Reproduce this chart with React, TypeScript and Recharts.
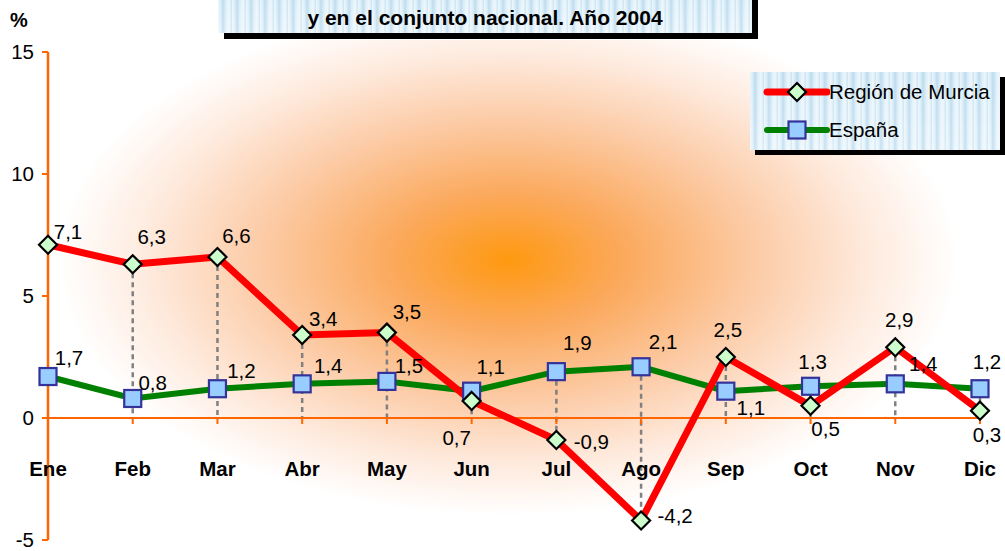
import React from "react";
import {
  LineChart,
  Line,
  XAxis,
  YAxis,
  ReferenceLine,
  ReferenceDot,
  LabelList,
} from "recharts";

const months = ["Ene", "Feb", "Mar", "Abr", "May", "Jun", "Jul", "Ago", "Sep", "Oct", "Nov", "Dic"];
const murcia = [7.1, 6.3, 6.6, 3.4, 3.5, 0.7, -0.9, -4.2, 2.5, 0.5, 2.9, 0.3];
const espana = [1.7, 0.8, 1.2, 1.4, 1.5, 1.1, 1.9, 2.1, 1.1, 1.3, 1.4, 1.2];
const yTicks = [-5, 0, 5, 10, 15];

// label placement (dx, dy from the marker), picked by eye
const murciaLabelPos = [
  [20, -13], [19, -28], [19, -21], [21, -17], [20, -21], [-15, 37],
  [35, 2], [34, -5], [2, -28], [15, 23], [4, -28], [7, 24],
];
const espanaLabelPos = [
  [21, -19], [20, -16], [24, -18], [26, -18], [22, -16], [19, -25],
  [21, -29], [22, -25], [25, 16], [2, -25], [28, -20], [7, -27],
];

const ORANGE = "#FF6600";
const FONT = "Arial, 'Liberation Sans', sans-serif";
const FS = 20.5;

const data = months.map((m, i) => ({ month: m, murcia: murcia[i], espana: espana[i] }));

const frosted =
  "repeating-linear-gradient(90deg, rgba(255,255,255,0.55) 0px, rgba(255,255,255,0) 3px, rgba(140,190,225,0.35) 5px, rgba(255,255,255,0.15) 8px, rgba(255,255,255,0.6) 11px, rgba(170,210,235,0.3) 14px), linear-gradient(#d4eaf6, #e4f2fa)";

const fmt = (v: number) => v.toFixed(1).replace(".", ",");

function Diamond({ cx, cy }: any) {
  if (cx == null || cy == null) return null;
  const r = 9;
  return (
    <polygon
      points={`${cx},${cy - r} ${cx + r},${cy} ${cx},${cy + r} ${cx - r},${cy}`}
      fill="#CCFFCC"
      stroke="#000"
      strokeWidth={2.2}
    />
  );
}

function Square({ cx, cy }: any) {
  if (cx == null || cy == null) return null;
  const s = 17;
  return (
    <rect x={cx - s / 2} y={cy - s / 2} width={s} height={s} fill="#99CCFF" stroke="#333399" strokeWidth={2.2} />
  );
}

const makeLabel = (pos: number[][]) => (props: any) => {
  const { x, y, value, index } = props;
  const [dx, dy] = pos[index] || [0, -20];
  return (
    <text
      x={x + dx}
      y={y + dy}
      textAnchor="middle"
      dominantBaseline="central"
      fontSize={FS}
      fontFamily={FONT}
      fill="#000"
    >
      {fmt(value)}
    </text>
  );
};

function MonthTick({ cx, cy, label }: any) {
  return (
    <g>
      <line x1={cx} y1={cy} x2={cx} y2={cy + 6} stroke={ORANGE} strokeWidth={2} />
      <text
        x={cx}
        y={cy + 50}
        textAnchor="middle"
        dominantBaseline="central"
        fontSize={FS}
        fontWeight="bold"
        fontFamily={FONT}
        fill="#000"
      >
        {label}
      </text>
    </g>
  );
}

export default function App() {
  return (
    <div
      style={{
        position: "absolute",
        left: 0,
        top: 0,
        width: 1005,
        height: 551,
        overflow: "hidden",
        background: "#fff",
        fontFamily: FONT,
      }}
    >
      {/* plot area glow */}
      <div
        style={{
          position: "absolute",
          left: 48,
          top: 40,
          width: 950,
          height: 500,
          background:
            "radial-gradient(ellipse 450px 255px at 460px 220px, #FF9910 0%, #FBA85A 25%, #FCCBA6 55%, #FEEADD 80%, #FFFFFF 100%)",
        }}
      />

      {/* title box */}
      <div
        style={{
          position: "absolute",
          left: 218,
          top: -6,
          width: 534,
          height: 39,
          background: frosted,
          boxShadow: "6px 6px 0 #000",
          textAlign: "center",
          fontWeight: "bold",
          fontSize: 21,
          lineHeight: "48px",
          color: "#000",
        }}
      >
        y en el conjunto nacional. Año 2004
      </div>

      <div style={{ position: "absolute", left: 10, top: 9, fontSize: 20, fontWeight: "bold" }}>%</div>

      <LineChart
        width={1005}
        height={551}
        data={data}
        margin={{ top: 52, right: 25, bottom: 11, left: 0 }}
        style={{ position: "absolute", left: 0, top: 0 }}
      >
        <XAxis dataKey="month" scale="point" hide />
        <YAxis
          width={48}
          domain={[-5, 15]}
          ticks={yTicks}
          interval={0}
          axisLine={{ stroke: ORANGE, strokeWidth: 2.5 }}
          tickLine={{ stroke: ORANGE, strokeWidth: 2 }}
          tickSize={6}
          tickMargin={8}
          tick={{ fill: "#000", fontSize: FS, fontFamily: FONT }}
        />
        {months.map((m, i) => (
          <ReferenceLine
            key={"drop" + m}
            segment={[
              { x: m, y: Math.max(murcia[i], espana[i], 0) },
              { x: m, y: Math.min(murcia[i], espana[i], 0) },
            ]}
            stroke="#808080"
            strokeWidth={2.5}
            strokeDasharray="5 4"
          />
        ))}
        <ReferenceLine y={0} stroke={ORANGE} strokeWidth={2} />
        {months.map((m) => (
          <ReferenceDot
            key={"tick" + m}
            x={m}
            y={0}
            r={0}
            ifOverflow="visible"
            shape={(p: any) => <MonthTick cx={p.cx} cy={p.cy} label={m} />}
          />
        ))}
        <Line
          dataKey="espana"
          name="España"
          stroke="#008000"
          strokeWidth={6}
          dot={(p: any) => <Square key={"s" + p.index} cx={p.cx} cy={p.cy} />}
          activeDot={false}
          isAnimationActive={false}
        >
          <LabelList dataKey="espana" content={makeLabel(espanaLabelPos)} />
        </Line>
        <Line
          dataKey="murcia"
          name="Región de Murcia"
          stroke="#FF0000"
          strokeWidth={7}
          dot={(p: any) => <Diamond key={"d" + p.index} cx={p.cx} cy={p.cy} />}
          activeDot={false}
          isAnimationActive={false}
        >
          <LabelList dataKey="murcia" content={makeLabel(murciaLabelPos)} />
        </Line>
      </LineChart>

      {/* legend */}
      <div
        style={{
          position: "absolute",
          left: 750,
          top: 72,
          width: 250,
          height: 78,
          background: frosted,
          boxShadow: "5px 5px 0 #000",
          fontSize: FS,
          color: "#000",
        }}
      >
        <svg width={80} height={78} style={{ position: "absolute", left: 0, top: 0 }}>
          <line x1={17} y1={20} x2={77} y2={20} stroke="#FF0000" strokeWidth={7} strokeLinecap="round" />
          <Diamond cx={47} cy={20} />
          <line x1={17} y1={58} x2={77} y2={58} stroke="#008000" strokeWidth={6} strokeLinecap="round" />
          <Square cx={47} cy={58} />
        </svg>
        <div style={{ position: "absolute", left: 79, top: 8, lineHeight: "24px" }}>Región de Murcia</div>
        <div style={{ position: "absolute", left: 79, top: 46, lineHeight: "24px" }}>España</div>
      </div>
    </div>
  );
}
